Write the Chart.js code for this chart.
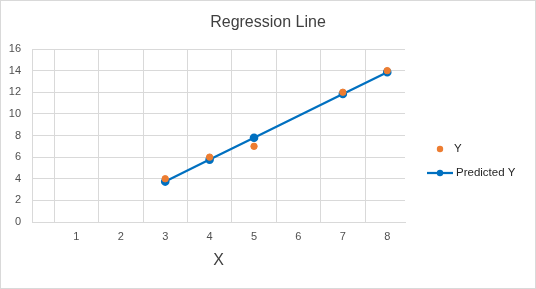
<!DOCTYPE html>
<html>
<head>
<meta charset="utf-8">
<script src="https://cdn.jsdelivr.net/npm/chart.js@4.4.0/dist/chart.umd.min.js"></script>
<style>
  html, body { margin: 0; padding: 0; background: #fff; }
  #wrap { width: 536px; height: 289px; }
</style>
</head>
<body>
<div id="wrap"><canvas id="chart" width="536" height="289"></canvas></div>
<script>
// data
const xValues = [3, 4, 5, 7, 8];
const yValues = [4, 6, 7, 12, 14];
const predictedValues = [3.74, 5.77, 7.79, 11.84, 13.86];
const xTickLabels = [1, 2, 3, 4, 5, 6, 7, 8];
const xGridLines = [0.5, 1.5, 2.5, 3.5, 4.5, 5.5, 6.5, 7.5];

const FONT = "'Liberation Sans', Arial, sans-serif";
const TEXT = '#505050';
const GRID = '#d9d9d9';

function toPoints(ys) {
    return xValues.map(function(x, i) { return { x: x, y: ys[i] }; });
}

// white background and thin frame round the whole chart
const framePlugin = {
    id: 'frame',
    beforeDraw: function(chart) {
        const ctx = chart.ctx;
        ctx.save();
        ctx.fillStyle = '#fff';
        ctx.fillRect(0, 0, chart.width, chart.height);
        ctx.strokeStyle = GRID;
        ctx.lineWidth = 1;
        ctx.strokeRect(0.5, 0.5, chart.width - 1, chart.height - 1);
        ctx.restore();
    }
};

// Excel-like legend on the right
const legendPlugin = {
    id: 'sideLegend',
    afterDraw: function(chart) {
        const ctx = chart.ctx;
        const sets = chart.data.datasets;
        const rows = [149, 173];
        ctx.save();
        ctx.font = '11.5px ' + FONT;
        ctx.textBaseline = 'middle';
        sets.forEach(function(ds, i) {
            const y = rows[i];
            if (ds.showLine) {
                ctx.strokeStyle = ds.borderColor;
                ctx.lineWidth = 2.25;
                ctx.beginPath();
                ctx.moveTo(427, y);
                ctx.lineTo(453, y);
                ctx.stroke();
            }
            ctx.fillStyle = ds.pointBackgroundColor;
            ctx.beginPath();
            ctx.arc(440, y, 3.2, 0, Math.PI * 2);
            ctx.fill();
            ctx.fillStyle = '#262626';
            ctx.fillText(ds.label, ds.showLine ? 456 : 454, y);
        });
        ctx.restore();
    }
};

new Chart(document.getElementById('chart'), {
    type: 'scatter',
    data: {
        datasets: [{
            label: 'Y',
            data: toPoints(yValues),
            showLine: false,
            pointRadius: 3.2,
            pointBackgroundColor: '#ED7D31',
            pointBorderColor: '#ED7D31',
            borderColor: '#ED7D31'
        }, {
            label: 'Predicted Y',
            data: toPoints(predictedValues),
            showLine: true,
            borderColor: '#0070C0',
            borderWidth: 2.25,
            pointRadius: 3.2,
            pointBackgroundColor: '#0070C0',
            pointBorderColor: '#0070C0',
            tension: 0
        }]
    },
    options: {
        responsive: false,
        animation: false,
        devicePixelRatio: 1,
        layout: { padding: 0 },
        plugins: {
            legend: { display: false },
            tooltip: { enabled: false },
            title: {
                display: true,
                text: 'Regression Line',
                color: '#404040',
                font: { family: FONT, size: 16, weight: 'normal' },
                padding: { top: 13, bottom: 16.8 }
            }
        },
        scales: {
            x: {
                type: 'linear',
                position: 'bottom',
                min: 0,
                max: 8.4,
                afterBuildTicks: function(scale) {
                    scale.ticks = xGridLines.map(function(v) { return { value: v }; });
                },
                afterFit: function(scale) { scale.height = 0; },
                ticks: { display: false },
                grid: { color: GRID, drawTicks: false },
                border: { color: GRID }
            },
            xLabels: {
                type: 'linear',
                position: 'bottom',
                min: 0,
                max: 8.4,
                afterBuildTicks: function(scale) {
                    scale.ticks = xTickLabels.map(function(v) { return { value: v }; });
                },
                afterFit: function(scale) { scale.height = 67; },
                ticks: {
                    color: TEXT,
                    font: { family: FONT, size: 11 },
                    padding: 8.5,
                    maxRotation: 0
                },
                grid: { display: false, drawTicks: false },
                border: { display: false },
                title: {
                    display: true,
                    text: 'X',
                    color: '#404040',
                    font: { family: FONT, size: 16 },
                    padding: { top: 0, bottom: 18.4 }
                }
            },
            y: {
                min: 0,
                max: 16,
                afterFit: function(scale) { scale.width = 32; },
                ticks: {
                    stepSize: 2,
                    color: TEXT,
                    font: { family: FONT, size: 11 },
                    padding: 11
                },
                grid: { color: GRID, drawTicks: false },
                border: { color: GRID }
            },
            // empty box that keeps room for the legend on the right
            legendSpace: {
                position: 'right',
                min: 0,
                max: 16,
                afterFit: function(scale) { scale.width = 131; },
                ticks: { display: false },
                grid: { display: false, drawTicks: false },
                border: { display: false }
            }
        }
    },
    plugins: [framePlugin, legendPlugin]
});
</script>
</body>
</html>
